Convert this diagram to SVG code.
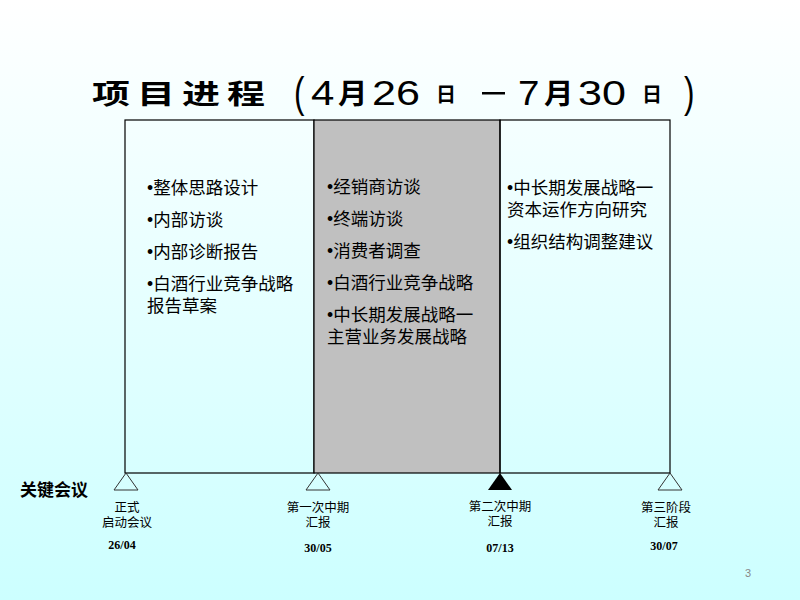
<svg xmlns="http://www.w3.org/2000/svg" width="800" height="600" viewBox="0 0 800 600">
<defs>
<linearGradient id="bg" x1="0" y1="0" x2="0" y2="1">
<stop offset="0" stop-color="#ffffff"/>
<stop offset="1" stop-color="#ccffff"/>
</linearGradient>
</defs>
<style>
.t{font-family:"Liberation Sans","Noto Sans CJK SC",sans-serif;fill:#000}
.b{font-size:17.5px}
.m{font-size:12.5px;text-anchor:middle}
.d{font-family:"Liberation Serif",serif;font-weight:bold;font-size:12px;text-anchor:middle}
.n{font-size:35px}
.box{fill:none;stroke:#000;stroke-width:1.2}
.tri{fill:none;stroke:#333;stroke-width:1}
</style>
<rect width="800" height="600" fill="url(#bg)"/>
<g id="title">
<g transform="translate(92,104) scale(1,0.72)">
<text class="t" x="0" y="0" font-size="38" font-weight="bold" textLength="173" lengthAdjust="spacing">项目进程</text>
</g>
<g transform="translate(294,107) scale(0.75,1)"><text class="t" x="0" y="0" font-size="42">(</text></g>
<g transform="translate(311,105) scale(1.2,1)"><text class="t n" x="0" y="0">4</text></g>
<g transform="translate(338,104) scale(1.05,1)"><text class="t" x="0" y="0" font-size="28" font-weight="bold">月</text></g>
<g transform="translate(372,105) scale(1.23,1)"><text class="t n" x="0" y="0">26</text></g>
<text class="t" x="436" y="102" font-size="20" font-weight="bold">日</text>
<rect x="482" y="92" width="23" height="2.5" fill="#000"/>
<g transform="translate(518,105) scale(1.1,1)"><text class="t n" x="0" y="0">7</text></g>
<g transform="translate(544,104) scale(1.05,1)"><text class="t" x="0" y="0" font-size="28" font-weight="bold">月</text></g>
<g transform="translate(578,105) scale(1.23,1)"><text class="t n" x="0" y="0">30</text></g>
<text class="t" x="642" y="102" font-size="20" font-weight="bold">日</text>
<g transform="translate(684,107) scale(0.75,1)"><text class="t" x="0" y="0" font-size="42">)</text></g>
</g>
<g id="phase1">
<rect class="box" x="125" y="120" width="189" height="353"/>
<text class="t b" x="147" y="194">•整体思路设计</text>
<text class="t b" x="147" y="226">•内部访谈</text>
<text class="t b" x="147" y="258">•内部诊断报告</text>
<text class="t b" x="147" y="290">•白酒行业竞争战略</text>
<text class="t b" x="147" y="312">报告草案</text>
</g>
<g id="phase2">
<rect x="314" y="120" width="186" height="353" fill="#c0c0c0" stroke="#000" stroke-width="1.2"/>
<text class="t b" x="327" y="193">•经销商访谈</text>
<text class="t b" x="327" y="225">•终端访谈</text>
<text class="t b" x="327" y="257">•消费者调查</text>
<text class="t b" x="327" y="289">•白酒行业竞争战略</text>
<text class="t b" x="327" y="321">•中长期发展战略一</text>
<text class="t b" x="327" y="343">主营业务发展战略</text>
</g>
<g id="phase3">
<rect class="box" x="500" y="120" width="170" height="353"/>
<text class="t b" x="507" y="194">•中长期发展战略一</text>
<text class="t b" x="507" y="216">资本运作方向研究</text>
<text class="t b" x="507" y="248">•组织结构调整建议</text>
</g>
<g id="label">
<text class="t" x="20" y="496" font-size="17" font-weight="bold">关键会议</text>
</g>
<g id="m1">
<polygon class="tri" points="126,473 114,490 138,490"/>
<text class="t m" x="127" y="512">正式</text>
<text class="t m" x="127" y="527">启动会议</text>
<text class="d" x="122" y="549">26/04</text>
</g>
<g id="m2">
<polygon class="tri" points="318,473 306,490 330,490"/>
<text class="t m" x="318" y="512">第一次中期</text>
<text class="t m" x="318" y="527">汇报</text>
<text class="d" x="318" y="552">30/05</text>
</g>
<g id="m3">
<polygon points="500,473 488,490 512,490" fill="#000"/>
<text class="t m" x="500" y="511">第二次中期</text>
<text class="t m" x="500" y="526">汇报</text>
<text class="d" x="500" y="552">07/13</text>
</g>
<g id="m4">
<polygon class="tri" points="670,473 658,490 682,490"/>
<text class="t m" x="666" y="512">第三阶段</text>
<text class="t m" x="666" y="527">汇报</text>
<text class="d" x="664" y="550">30/07</text>
</g>
<g id="connectors"></g>
<text x="748" y="577" font-family="Liberation Sans,sans-serif" font-size="11" fill="#888" text-anchor="middle">3</text>
</svg>
